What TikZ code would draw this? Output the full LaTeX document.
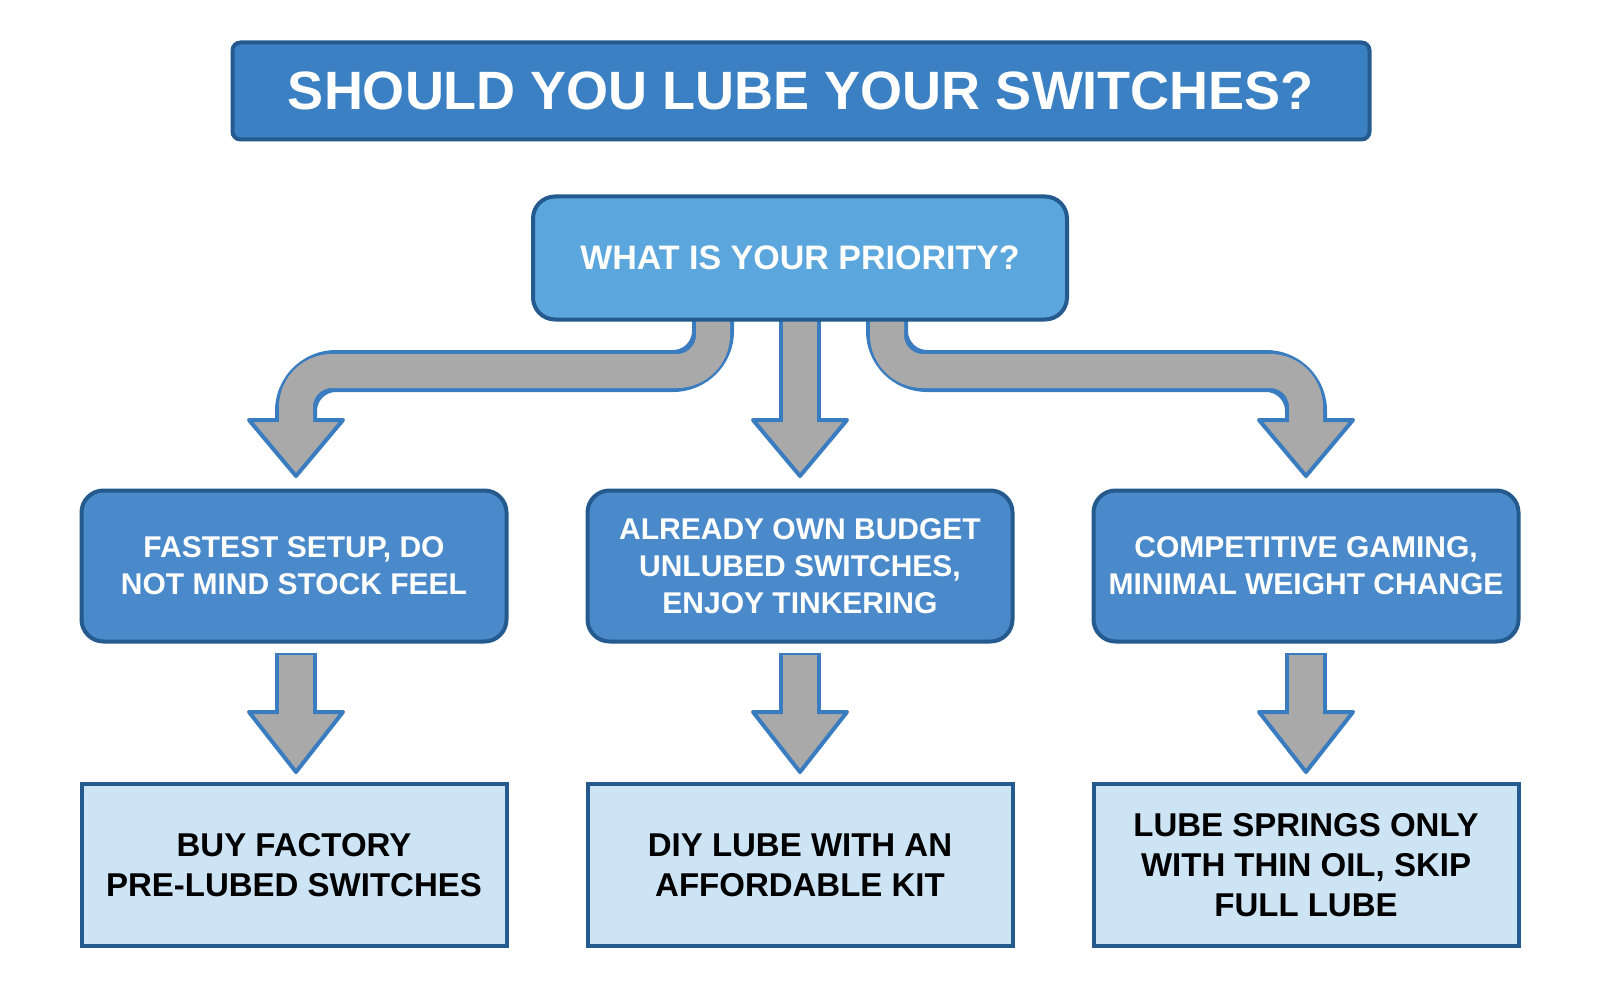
\documentclass[tikz,border=0pt]{standalone}
\usepackage{fontspec}
\setmainfont{Liberation Sans}
\begin{document}
\begin{tikzpicture}[x=1pt,y=-1pt,
  edgeblue/.style={line width=42pt},
  shaftg/.style={line width=34pt,draw=arrg},
  headst/.style={fill=arrg,draw=arrb,line width=4pt,line join=round},
  rbox/.style={rounded corners=22pt,draw=bord,line width=4pt,text=white,font=\bfseries\fontsize{30}{37}\selectfont,align=center,minimum width=425pt,minimum height=151pt,inner sep=0pt},
  sbox/.style={draw=bord,line width=4pt,fill=light,text=black,font=\bfseries\fontsize{33}{40}\selectfont,align=center,minimum width=425pt,minimum height=162pt,inner sep=0pt}]
\definecolor{arrg}{HTML}{A9A9A9}
\definecolor{arrb}{HTML}{3A7CC0}
\definecolor{bord}{HTML}{245A8E}
\definecolor{tfill}{HTML}{3A80C2}
\definecolor{pfill}{HTML}{5BA6DD}
\definecolor{mfill}{HTML}{4A8ACB}
\definecolor{light}{HTML}{CDE4F5}
\useasboundingbox (0,0) rectangle (1600,1000);
\fill[white] (0,0) rectangle (1600,1000);
% connectors
\coordinate (sL) at (713,300); \coordinate (eL) at (296,424);
\coordinate (sC) at (800,300); \coordinate (eC) at (800,424);
\coordinate (sR) at (887,300); \coordinate (eR) at (1306,424);
\draw[edgeblue,draw=arrb,rounded corners=40pt] (sL) |- (296,371) -- (eL);
\draw[edgeblue,draw=arrb,rounded corners=40pt] (sR) |- (1306,371) -- (eR);
\draw[edgeblue,draw=arrb] (sC) -- (eC);
\foreach \x in {296,800,1306}{\draw[headst] (\x-47,420) -- (\x+47,420) -- (\x,476) -- cycle;}
\draw[shaftg,rounded corners=36pt] (sL) |- (296,371) -- (eL);
\draw[shaftg,rounded corners=36pt] (sR) |- (1306,371) -- (eR);
\draw[shaftg] (sC) -- (eC);
% lower connectors
\foreach \x in {296,800,1306}{
  \draw[edgeblue,draw=arrb] (\x,653) -- (\x,716);
  \draw[headst] (\x-47,712) -- (\x+47,712) -- (\x,772) -- cycle;
  \draw[shaftg] (\x,655) -- (\x,716);}
% nodes
\node[draw=bord,line width=4pt,fill=tfill,rounded corners=8pt,minimum width=1137pt,minimum height=97pt,text=white,font=\bfseries\fontsize{54}{60}\selectfont] (title) at (801,91) {SHOULD YOU LUBE YOUR SWITCHES?};
\node[rbox,fill=pfill,minimum width=534pt,minimum height=123pt,font=\bfseries\fontsize{34}{40}\selectfont] (prio) at (800,258) {WHAT IS YOUR PRIORITY?};
\node[rbox,fill=mfill] (m1) at (294,566) {FASTEST SETUP, DO\\NOT MIND STOCK FEEL};
\node[rbox,fill=mfill] (m2) at (800,566) {ALREADY OWN BUDGET\\UNLUBED SWITCHES,\\ENJOY TINKERING};
\node[rbox,fill=mfill] (m3) at (1306,566) {COMPETITIVE GAMING,\\MINIMAL WEIGHT CHANGE};
\node[sbox] (b1) at (294,865) {BUY FACTORY\\PRE-LUBED SWITCHES};
\node[sbox] (b2) at (800,865) {DIY LUBE WITH AN\\AFFORDABLE KIT};
\node[sbox] (b3) at (1306,865) {LUBE SPRINGS ONLY\\WITH THIN OIL, SKIP\\FULL LUBE};
\end{tikzpicture}
\end{document}
